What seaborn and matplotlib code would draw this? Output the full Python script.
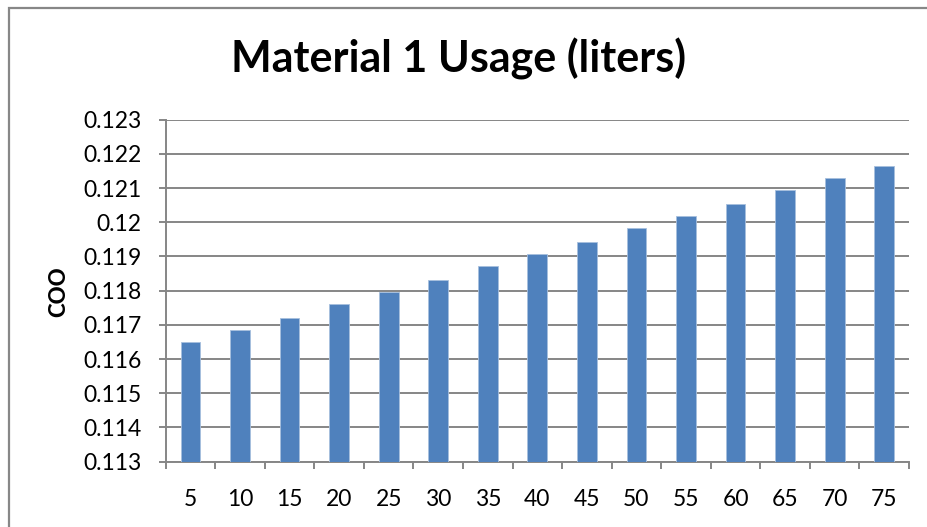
import matplotlib
matplotlib.use("Agg")
import matplotlib.pyplot as plt
from matplotlib.patches import Rectangle
from matplotlib.ticker import FixedLocator, NullFormatter
import seaborn as sns
import pandas as pd

# Usage levels (liters) and the resulting COO
usage = ["5", "10", "15", "20", "25", "30", "35", "40", "45", "50",
         "55", "60", "65", "70", "75"]
coo = [0.11651, 0.11686, 0.11720, 0.11761, 0.11796, 0.11831, 0.11872,
       0.11906, 0.11941, 0.11982, 0.12018, 0.12053, 0.12094, 0.12129,
       0.12164]
y_ticks = [0.113, 0.114, 0.115, 0.116, 0.117, 0.118, 0.119, 0.12,
           0.121, 0.122, 0.123]
y_tick_labels = ["0.113", "0.114", "0.115", "0.116", "0.117", "0.118",
                 "0.119", "0.12", "0.121", "0.122", "0.123"]

df = pd.DataFrame({"usage": usage, "coo": coo})

sns.set_theme(style="white")
plt.rcParams["font.family"] = ["Lato", "DejaVu Sans"]

W, H = 927, 527
fig = plt.figure(figsize=(W / 100, H / 100), dpi=100)
ax = fig.add_axes([165.7 / W, 1 - 461.7 / H, (909 - 165.7) / W, (461.7 - 119.7) / H])

grid_col = "#868686"

sns.barplot(data=df, x="usage", y="coo", order=usage, color="#4F81BD",
            saturation=1, width=0.40, ax=ax, zorder=3,
            edgecolor="#A7BFDE", linewidth=0.6)

ax.set_xlim(-0.5, len(usage) - 0.5)
ax.set_ylim(0.113, 0.123)
ax.set_yticks(y_ticks)
ax.set_yticklabels(y_tick_labels)
ax.yaxis.grid(True, color=grid_col, linewidth=1.4, zorder=0)
ax.set_axisbelow(True)

# Category labels centred under bars, tick marks between categories
ax.set_xticks(range(len(usage)))
ax.set_xticklabels(usage)
ax.xaxis.set_minor_locator(FixedLocator([i - 0.5 for i in range(len(usage) + 1)]))
ax.xaxis.set_minor_formatter(NullFormatter())
ax.tick_params(axis="x", which="major", length=0, pad=20, labelsize=16.5,
               labelcolor="black")
ax.tick_params(axis="x", which="minor", bottom=True, length=5.3, width=1.4,
               color=grid_col, direction="out")
ax.tick_params(axis="y", left=True, length=5.3, width=1.4, color=grid_col,
               pad=12, labelsize=16.5, labelcolor="black", direction="out")

for side in ["top", "right"]:
    ax.spines[side].set_visible(False)
for side in ["left", "bottom"]:
    ax.spines[side].set_color(grid_col)
    ax.spines[side].set_linewidth(1.4)

ax.set_xlabel("")
ax.set_ylabel("")
fig.text(59 / W, 1 - 292 / H, "COO", rotation=90, ha="center", va="center",
         fontsize=16, fontweight="black", color="black")

fig.text(459 / W, 1 - 73 / H, "Material 1 Usage (liters)", ha="center",
         va="baseline", fontsize=31, fontweight="bold", color="black")

# Chart frame
fig.patches.append(Rectangle((9 / W, -0.1), 1.2, 1 - 8 / H + 0.1,
                             transform=fig.transFigure, fill=False,
                             edgecolor="#878787", linewidth=1.6))

fig.savefig("out.png", dpi=100)
